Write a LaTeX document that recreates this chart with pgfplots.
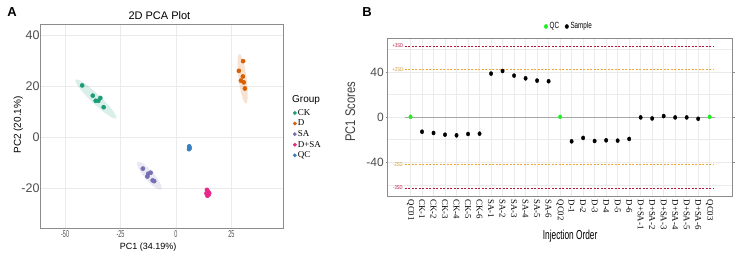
\documentclass[border=0pt]{standalone}
\usepackage{fontspec}
\setmainfont{Liberation Sans}
\newfontfamily\serif{Liberation Serif}
\usepackage{graphicx}
\usepackage{pgfplots}
\pgfplotsset{compat=1.18}
\usetikzlibrary{shapes.geometric}

\definecolor{ckc}{HTML}{1B9E77}
\definecolor{dc}{HTML}{D95F02}
\definecolor{sac}{HTML}{7570B3}
\definecolor{dsac}{HTML}{E7298A}
\definecolor{qcc}{HTML}{3A7FC1}
\definecolor{qcgreen}{HTML}{22EE22}
\definecolor{sdthree}{HTML}{B5173F}
\definecolor{sdtwo}{HTML}{EBA838}
\definecolor{gridc}{HTML}{EBEBEB}
\definecolor{framec}{HTML}{8C8C8C}
\definecolor{tickc}{HTML}{4D4D4D}

% PCA scores per group
\pgfplotstableread{
x y
-42.3 20.3
-37.5 16.3
-36.2 14.3
-35.0 14.3
-34.1 15.4
-32.6 11.8
}\ckdata
\pgfplotstableread{
x y
30.3 29.8
28.4 26.0
30.2 23.8
29.3 22.2
30.6 21.5
31.1 19.1
}\ddata
\pgfplotstableread{
x y
-14.9 -12.2
-12.9 -15.3
-12.5 -14.2
-11.4 -13.8
-10.5 -16.8
-9.8 -17.1
}\sadata
\pgfplotstableread{
x y
14.0 -20.5
14.5 -21.3
13.8 -21.9
14.8 -22.3
14.2 -22.8
15.0 -21.8
}\dsadata
\pgfplotstableread{
x y
6.0 -3.5
6.2 -4.2
5.9 -4.6
}\qcdata

% PC1 scores in injection order
\pgfplotstableread{
x y
1 0.2
14 0.2
27 0.2
}\qcorder
\pgfplotstableread{
x y
2 -13.0
3 -14.1
4 -15.6
5 -16.2
6 -15.0
7 -14.7
8 38.6
9 40.9
10 36.8
11 34.4
12 32.4
13 31.8
15 -21.5
16 -18.5
17 -21.2
18 -20.6
19 -20.9
20 -19.4
21 -0.3
22 -1.2
23 0.9
24 -0.3
25 -0.3
26 -1.5
}\sampleorder

\begin{document}
\begin{tikzpicture}
\useasboundingbox (0pt,0pt) rectangle (743pt,256pt);

\node[font=\bfseries\fontsize{13}{13}\selectfont, anchor=center] at (12pt,244pt) {A};
\node[font=\bfseries\fontsize{13}{13}\selectfont, anchor=center] at (367pt,244pt) {B};

% ---------------- panel A: PCA score plot ----------------
\begin{axis}[
  name=pca,
  at={(40.7pt,28pt)}, anchor=south west,
  scale only axis, width=242.3pt, height=204pt,
  xmin=-61, xmax=48.3, ymin=-35.4, ymax=44.3,
  xtick={-50,-25,0,25}, ytick={-20,0,20,40},
  /pgf/number format/assume math mode=true,
  grid=major, major grid style={gridc, line width=0.5pt},
  axis line style={framec, line width=0.7pt},
  major tick length=0pt,
  yticklabel style={font=\fontsize{12.5}{13}\selectfont, text=tickc, inner sep=1pt},
  xticklabel style={font=\fontsize{10}{10}\selectfont, text=tickc, xscale=0.55, inner sep=2.5pt},
  title={\fontsize{11}{11}\selectfont 2D PCA Plot},
  title style={at={(axis description cs:0.49,1)}, anchor=south, yshift=-4.7pt},
  xlabel={\fontsize{9}{9}\selectfont PC1 (34.19\%)},
  xlabel style={at={(axis description cs:0.443,-0.093)}, anchor=center},
  ylabel={\fontsize{10}{10}\selectfont PC2 (20.1\%)},
  ylabel style={at={(axis description cs:-0.093,0.505)}, anchor=center},
  legend style={at={(1.041,0.588)}, anchor=north west, draw=none, fill=none,
    inner sep=0pt, row sep=1.2pt,
    font=\serif\fontsize{9}{9}\selectfont,
    nodes={inner sep=0.8pt, text height=6.3pt, text depth=1.5pt}},
  legend cell align=left,
  legend image code/.code={\path (-1.4pt,0pt) (2pt,0pt);
    \draw[#1, mark size=1.7pt] plot coordinates {(0pt,0pt)};},
  clip=false,
]
% confidence ellipses
\node[ellipse, fill=ckc, fill opacity=0.16, inner sep=0pt,
  minimum width=56pt, minimum height=9.5pt, rotate=-43.6] at (axis cs:-36.1,15.0) {};
\node[ellipse, fill=dc, fill opacity=0.18, inner sep=0pt,
  minimum width=50pt, minimum height=8pt, rotate=-82.6] at (axis cs:30.1,22.9) {};
\node[ellipse, fill=sac, fill opacity=0.16, inner sep=0pt,
  minimum width=36pt, minimum height=9.5pt, rotate=-49] at (axis cs:-12.0,-15.0) {};
\node[ellipse, fill=dsac, fill opacity=0.18, inner sep=0pt,
  minimum width=9pt, minimum height=7pt, rotate=-80] at (axis cs:14.4,-21.7) {};
\node[ellipse, fill=qcc, fill opacity=0.18, inner sep=0pt,
  minimum width=6pt, minimum height=4pt, rotate=-80] at (axis cs:6.0,-4.1) {};

\addplot[only marks, mark=*, mark size=2.1pt, color=ckc] table {\ckdata};
\addlegendentry{CK}
\addplot[only marks, mark=*, mark size=2.1pt, color=dc] table {\ddata};
\addlegendentry{D}
\addplot[only marks, mark=*, mark size=2.1pt, color=sac] table {\sadata};
\addlegendentry{SA}
\addplot[only marks, mark=*, mark size=2.1pt, color=dsac] table {\dsadata};
\addlegendentry{D+SA}
\addplot[only marks, mark=*, mark size=2.1pt, color=qcc] table {\qcdata};
\addlegendentry{QC}

\node[anchor=west, font=\fontsize{10}{10}\selectfont, inner sep=0pt]
  at (axis description cs:1.037,0.627) {Group};
\end{axis}

% ---------------- panel B: PC1 scores by injection order ----------------
\begin{axis}[
  name=order,
  at={(387.5pt,60pt)}, anchor=south west,
  scale only axis, width=345.2pt, height=157.8pt,
  xmin=-1, xmax=29, ymin=-70, ymax=70,
  xtick={1,...,27},
  xticklabels={QC01,CK-1,CK-2,CK-3,CK-4,CK-5,CK-6,SA-1,SA-2,SA-3,SA-4,SA-5,SA-6,QC02,
    D-1,D-2,D-3,D-4,D-5,D-6,D+SA-1,D+SA-2,D+SA-3,D+SA-4,D+SA-5,D+SA-6,QC03},
  ytick={-40,0,40}, minor ytick={-60,-20,20,60},
  /pgf/number format/assume math mode=true,
  xmajorgrids, ymajorgrids, yminorgrids,
  major grid style={gridc, line width=0.5pt},
  minor grid style={gridc, line width=0.4pt},
  axis line style={framec, line width=0.7pt},
  xtick style={draw=none},
  ytick style={framec, line width=0.5pt},
  tick align=outside, major tick length=2pt, minor tick length=0pt,
  yticklabel style={font=\fontsize{12}{12}\selectfont, text=tickc, inner sep=1.5pt},
  xticklabel style={font=\serif\fontsize{8.8}{9}\selectfont, rotate=-90, anchor=west,
    inner sep=1.5pt},
  xlabel={\fontsize{13}{13}\selectfont\scalebox{0.64}[1]{Injection Order}},
  xlabel style={at={(axis description cs:0.529,-0.257)}, anchor=center},
  ylabel={\fontsize{14}{14}\selectfont\scalebox{0.8}[1]{PC1 Scores}},
  ylabel style={at={(axis description cs:-0.108,0.533)}, anchor=center, text=tickc!80!black},
  legend columns=2,
  legend style={at={(0.526,1)}, anchor=south, yshift=3.5pt, draw=none, fill=none,
    font=\fontsize{9}{9}\selectfont,
    /tikz/every even column/.append style={column sep=4pt}},
  legend image code/.code={\path (-1.5pt,0pt) (1.5pt,0pt);
    \draw[#1] plot coordinates {(0pt,0pt)};},
]
% control limits at mean +- 2SD and +- 3SD
\addplot[sdthree, dash pattern=on 2pt off 1.5pt, line width=0.8pt, forget plot] coordinates {(0.5,63) (27.4,63)};
\addplot[sdthree, dash pattern=on 2pt off 1.5pt, line width=0.8pt, forget plot] coordinates {(0.5,-63) (27.4,-63)};
\addplot[sdtwo, dash pattern=on 2pt off 1.5pt, line width=0.8pt, forget plot] coordinates {(0.5,42) (27.4,42)};
\addplot[sdtwo, dash pattern=on 2pt off 1.5pt, line width=0.8pt, forget plot] coordinates {(0.5,-42) (27.4,-42)};
\addplot[gray!70, line width=0.9pt, forget plot] coordinates {(0.5,0) (27.5,0)};

\node[font=\fontsize{5.5}{5.5}\selectfont, text=sdthree, inner sep=0pt] at (axis cs:-0.1,63) {\scalebox{0.75}[1]{+3SD}};
\node[font=\fontsize{5.5}{5.5}\selectfont, text=sdthree, inner sep=0pt] at (axis cs:-0.1,-63) {\scalebox{0.75}[1]{-3SD}};
\node[font=\fontsize{5.5}{5.5}\selectfont, text=sdtwo!90!black, inner sep=0pt] at (axis cs:-0.1,42) {\scalebox{0.75}[1]{+2SD}};
\node[font=\fontsize{5.5}{5.5}\selectfont, text=sdtwo!90!black, inner sep=0pt] at (axis cs:-0.1,-42) {\scalebox{0.75}[1]{-2SD}};

\addplot[only marks, mark=*, mark size=1.7pt, color=qcgreen,
  mark options={yscale=1.2}] table {\qcorder};
\addlegendentry{\scalebox{0.7}[1]{QC}}
\addplot[only marks, mark=*, mark size=1.7pt, color=black,
  mark options={yscale=1.2}] table {\sampleorder};
\addlegendentry{\scalebox{0.7}[1]{Sample}}
\end{axis}
\end{tikzpicture}
\end{document}
